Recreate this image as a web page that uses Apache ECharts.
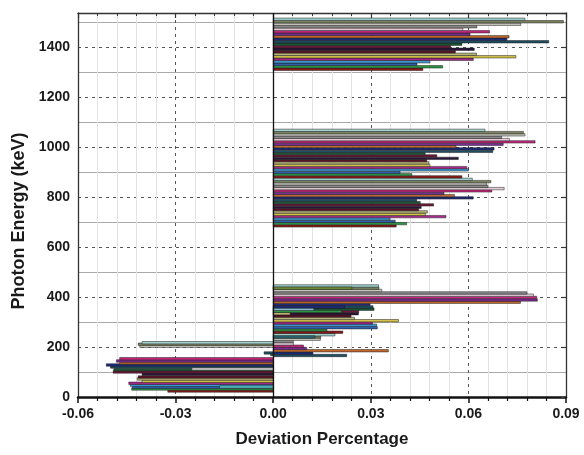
<!DOCTYPE html>
<html>
<head>
<meta charset="utf-8">
<script src="https://cdn.jsdelivr.net/npm/echarts@6/dist/echarts.min.js"></script>
<style>
html,body{margin:0;padding:0;background:#ffffff;}
#chart{width:584px;height:455px;}
</style>
</head>
<body>
<div id="chart"></div>
<script>
// ---------- data ----------
// Photon energies (keV) and deviation values, listed bottom -> top in each cluster
const highEnergy = [1310,1320,1330,1340,1350,1360,1370,1380,1390,1400,1410,1420,1430,1440,1450,1460,1470,1480,1490,1500,1510];
const highDev    = [0.0460,0.0521,0.0442,0.0482,0.0615,0.0746,0.0625,0.0560,0.0618,0.0545,0.0580,0.0847,0.0718,0.0725,0.0605,0.0665,0.0583,0.0626,0.0761,0.0892,0.0774];

const midEnergy = [684,693,702,712,721,730,740,749,758,768,777,786,796,805,814,824,833,842,852,861,870,880,889,898,908,917,926,936,945,954,964,973,982,992,1001,1010,1020,1029,1038,1048,1057,1066];
const midDev    = [0.0378,0.0410,0.0375,0.0359,0.0531,0.0468,0.0474,0.0447,0.0455,0.0493,0.0452,0.0441,0.0615,0.0557,0.0525,0.0672,0.0710,0.0660,0.0656,0.0669,0.0612,0.0580,0.0426,0.0390,0.0600,0.0595,0.0482,0.0478,0.0472,0.0569,0.0503,0.0467,0.0675,0.0679,0.0562,0.0707,0.0805,0.0726,0.0702,0.0774,0.0769,0.0651];

const lowEnergy = [166,175,185,194,203,212,222,231,240,249,259,268,277,287,296,305,314,324,333,342,351,360,370,379,388,398,407,416,426,435,444];
const lowDev    = [0.0226,0.0122,0.0354,0.0103,0.0093,0.0062,0.0062,0.0145,0.0146,0.0190,0.0214,0.0165,0.0320,0.0318,0.0305,0.0385,0.0250,0.0239,0.0262,0.0263,0.0310,0.0307,0.0298,0.0760,0.0812,0.0810,0.0800,0.0780,0.0334,0.0325,0.0324];

const negEnergy = [24,32,39,47,55,63,72,80,91,100,109,120,128,136,144,153];
const negDev    = [-0.0324,-0.0435,-0.0432,-0.0439,-0.0444,-0.0403,-0.0418,-0.0415,-0.0403,-0.0492,-0.0490,-0.0500,-0.0513,-0.0472,-0.0482,-0.0472];

const negTopEnergy = [203,211,217];
const negTopDev    = [-0.0410,-0.0415,-0.0403];

const negSmallEnergy = [170,176];
const negSmallDev    = [-0.0008,-0.0028];

// shorter bars drawn over longer ones at the same energy
const overlayEnergy = [40,112,240,333,342,351,360,435];
const overlayDev    = [-0.0165,-0.0250,0.0128,0.0052,0.0210,0.0125,0.0220,0.0242];

// axis ticks
const xMin = -0.06, xMax = 0.09, xStep = 0.03;
const yMin = 0, yMax = 1535, yStep = 200;

// ---------- styles ----------
const PALETTE = ['#8b1a1a','#2e9444','#2f5fae','#3d9fd6','#a52a8a','#d4c24a','#b9b67a',
  '#5a1426','#2a1638','#6a1a3a','#1c5836','#1f4e60','#1e2c78','#c06a2e','#7a2c92',
  '#c3287c','#e4ccd8','#8a8a8a','#c6c6bd','#7c8460','#9ecfcb'];
const OVERLAY_COLORS = ['#59c0c8','#d2d2d2','#2a6a78','#c9c07a','#2e9444','#8fc7d7','#1e2c78','#6f8f3a'];
const BAR_KEV = 9.6;
const FONT = 'Liberation Sans, Arial, Helvetica, sans-serif';
const TXT = '#1a1a1a';

function makeRender(colorOf) {
  return function (params, api) {
    const v = api.value(0), e = api.value(1);
    const a = api.coord([0, e + BAR_KEV / 2]);
    const b = api.coord([v, e - BAR_KEV / 2]);
    return {
      type: 'rect',
      shape: { x: Math.min(a[0], b[0]), y: a[1], width: Math.abs(b[0] - a[0]), height: b[1] - a[1] },
      style: { fill: colorOf(api.value(2)), stroke: '#1c1c1c', lineWidth: 0.5 }
    };
  };
}

function barSeries(name, energies, devs, start) {
  return {
    type: 'custom', name: name, xAxisIndex: 0, yAxisIndex: 0, clip: true, silent: true,
    encode: { x: 0, y: 1 },
    data: energies.map((e, i) => [devs[i], e, (start + i) % PALETTE.length]),
    renderItem: makeRender(k => PALETTE[k])
  };
}

const series = [
  barSeries('high', highEnergy, highDev, 0),
  barSeries('mid', midEnergy, midDev, 0),
  barSeries('low', lowEnergy, lowDev, 11),
  barSeries('neg', negEnergy, negDev, 0),
  barSeries('negTop', negTopEnergy, negTopDev, 18),
  barSeries('negSmall', negSmallEnergy, negSmallDev, 10),
  {
    type: 'custom', name: 'overlay', xAxisIndex: 0, yAxisIndex: 0, clip: true, silent: true,
    encode: { x: 0, y: 1 },
    data: overlayEnergy.map((e, i) => [overlayDev[i], e, i]),
    renderItem: makeRender(k => OVERLAY_COLORS[k]),
    markLine: {
      silent: true, symbol: 'none', label: { show: false },
      lineStyle: { color: '#111', width: 1.3, type: 'solid' },
      data: [{ xAxis: 0 }]
    }
  }
];

const labelStyle = { fontFamily: FONT, fontWeight: 'bold', fontSize: 14, color: TXT };

const option = {
  animation: false,
  backgroundColor: '#ffffff',
  grid: { left: 78, right: 18, top: 13, bottom: 58, containLabel: false },
  xAxis: [
    {
      type: 'value', position: 'bottom', min: xMin, max: xMax, interval: xStep,
      axisLine: { show: true, onZero: false, lineStyle: { color: '#111', width: 2.5 } },
      axisTick: { show: true, inside: false, length: 6, lineStyle: { color: '#111', width: 1.5 } },
      minorTick: { show: true, splitNumber: 5, length: 4, lineStyle: { color: '#111', width: 1.2 } },
      splitLine: { show: true, lineStyle: { color: '#555', width: 1, type: [3, 4] } },
      minorSplitLine: { show: true, lineStyle: { color: '#e3e3e3', width: 1 } },
      axisLabel: Object.assign({ margin: 10, formatter: v => v.toFixed(2) }, labelStyle),
      name: 'Deviation Percentage', nameLocation: 'middle', nameGap: 34,
      nameTextStyle: { fontFamily: FONT, fontWeight: 'bold', fontSize: 17, color: TXT }
    },
    {
      type: 'value', position: 'top', min: xMin, max: xMax, interval: xStep,
      axisLine: { show: true, onZero: false, lineStyle: { color: '#333', width: 1.3 } },
      axisTick: { show: true, inside: true, length: 5, lineStyle: { color: '#333', width: 1.2 } },
      minorTick: { show: true, splitNumber: 5, length: 3, lineStyle: { color: '#333', width: 1 } },
      axisLabel: { show: false }, splitLine: { show: false }, minorSplitLine: { show: false }
    }
  ],
  yAxis: [
    {
      type: 'value', position: 'left', min: yMin, max: yMax, interval: yStep,
      axisLine: { show: true, onZero: false, lineStyle: { color: '#333', width: 1.3 } },
      axisTick: { show: false },
      minorTick: { show: false, splitNumber: 2 },
      splitLine: { show: true, lineStyle: { color: '#555', width: 1, type: [3, 4] } },
      minorSplitLine: { show: true, lineStyle: { color: '#a9a9a9', width: 1 } },
      axisLabel: Object.assign({ margin: 8, formatter: v => (v % yStep === 0 ? String(v) : '') }, labelStyle),
      name: 'Photon Energy (keV)', nameLocation: 'middle', nameGap: 45,
      nameTextStyle: { fontFamily: FONT, fontWeight: 'bold', fontSize: 18, color: TXT, padding: [0, 32, 0, 0] }
    },
    {
      type: 'value', position: 'right', min: yMin, max: yMax, interval: yStep,
      axisLine: { show: true, onZero: false, lineStyle: { color: '#333', width: 1.3 } },
      axisTick: { show: true, inside: true, length: 5, lineStyle: { color: '#333', width: 1.2 } },
      axisLabel: { show: false }, splitLine: { show: false }, minorSplitLine: { show: false }
    }
  ],
  series: series
};

const chart = echarts.init(document.getElementById('chart'), null, { renderer: 'canvas' });
chart.setOption(option);
</script>
</body>
</html>
